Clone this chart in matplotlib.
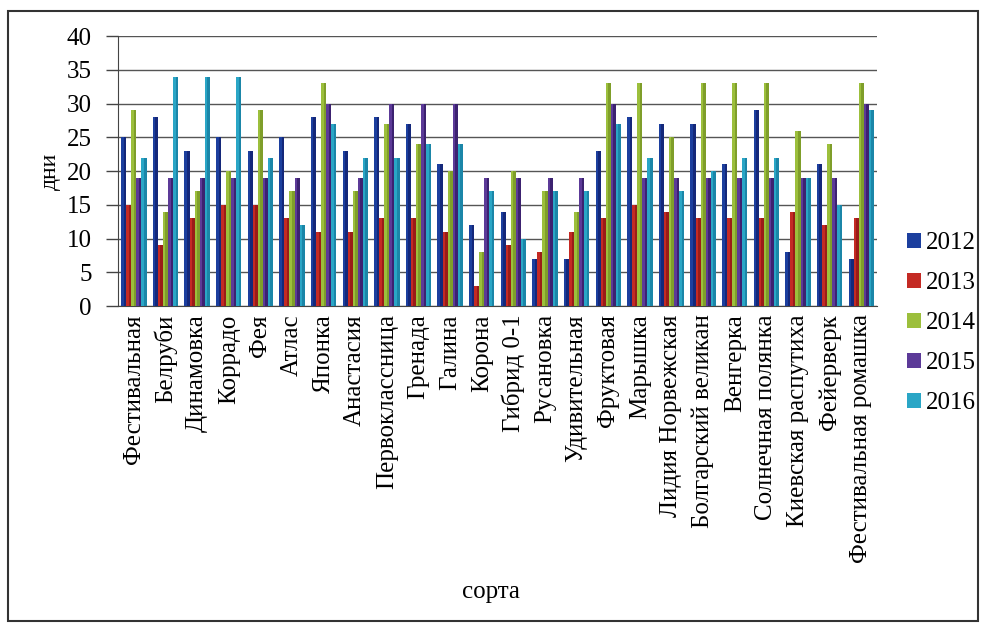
import numpy as np
import matplotlib
matplotlib.use('Agg')
import matplotlib.pyplot as plt
from matplotlib.patches import Rectangle

plt.rcParams['font.family'] = ['Liberation Serif', 'DejaVu Serif']

# сорта и продолжительность (дни) по годам
sorta = ['Фестивальная', 'Белруби', 'Динамовка', 'Коррадо', 'Фея', 'Атлас',
         'Японка', 'Анастасия', 'Первоклассница', 'Гренада', 'Галина', 'Корона',
         'Гибрид 0-1', 'Русановка', 'Удивительная', 'Фруктовая', 'Марышка',
         'Лидия Норвежская', 'Болгарский великан', 'Венгерка', 'Солнечная полянка',
         'Киевская распутиха', 'Фейерверк', 'Фестивальная ромашка']
gody = ['2012', '2013', '2014', '2015', '2016']

d2012 = [25, 28, 23, 25, 23, 25, 28, 23, 28, 27, 21, 12, 14, 7, 7, 23, 28, 27, 27, 21, 29, 8, 21, 7]
d2013 = [15, 9, 13, 15, 15, 13, 11, 11, 13, 13, 11, 3, 9, 8, 11, 13, 15, 14, 13, 13, 13, 14, 12, 13]
d2014 = [29, 14, 17, 20, 29, 17, 33, 17, 27, 24, 20, 8, 20, 17, 14, 33, 33, 25, 33, 33, 33, 26, 24, 33]
d2015 = [19, 19, 19, 19, 19, 19, 30, 19, 30, 30, 30, 19, 19, 19, 19, 30, 19, 19, 19, 19, 19, 19, 19, 30]
d2016 = [22, 34, 34, 34, 22, 12, 27, 22, 22, 24, 24, 17, 10, 17, 17, 27, 22, 17, 20, 22, 22, 19, 15, 29]

dannye = [d2012, d2013, d2014, d2015, d2016]
cveta = ['#1c3f9e', '#c42a24', '#9cbf3c', '#5c3a98', '#2aa6c6']
temnye = ['#14287a', '#9a1c18', '#7f9e2a', '#3c2270', '#1b86a8']

fig = plt.figure(figsize=(9.87, 6.24), dpi=100)
ax = fig.add_axes([0.1196, 0.5096, 0.769, 0.4327])

x = np.arange(len(sorta))
w = 0.16
for i, (god, d) in enumerate(zip(gody, dannye)):
    ax.bar(x + (i - 2) * w, d, w, color=cveta[i], label=god, zorder=3)
    # тёмная полоска справа у каждого столбика
    ax.bar(x + (i - 2) * w + w * 0.25, d, w * 0.5, color=temnye[i], zorder=3)

ax.set_xlim(-0.5, len(sorta) - 0.5)
ax.set_ylim(0, 40)
ax.set_yticks(range(0, 41, 5))
ax.yaxis.grid(True, color='#555555', linewidth=1.0, zorder=0)
ax.tick_params(axis='y', labelsize=18, length=9, width=1, color='#444444', pad=10)
ax.set_xticks(x)
ax.set_xticklabels(sorta, rotation=90, fontsize=18)
ax.tick_params(axis='x', length=0, pad=6)
for s in ['top', 'right']:
    ax.spines[s].set_visible(False)
ax.spines['left'].set_color('#444444')
ax.spines['bottom'].set_color('#444444')

ax.set_ylabel('дни', fontsize=17, labelpad=4)
fig.text(0.497, 0.051, 'сорта', fontsize=18, ha='center', va='center')

ax.legend(loc='center left', bbox_to_anchor=(1.01, -0.063), frameon=False,
          fontsize=18, handlelength=0.55, handleheight=0.55, handletextpad=0.2,
          labelspacing=0.72)

# рамка вокруг рисунка
fig.patches.append(Rectangle((0.008, 0.005), 0.983, 0.978, transform=fig.transFigure,
                             fill=False, edgecolor='#333333', linewidth=1.5))

fig.savefig('out.png', dpi=100)
